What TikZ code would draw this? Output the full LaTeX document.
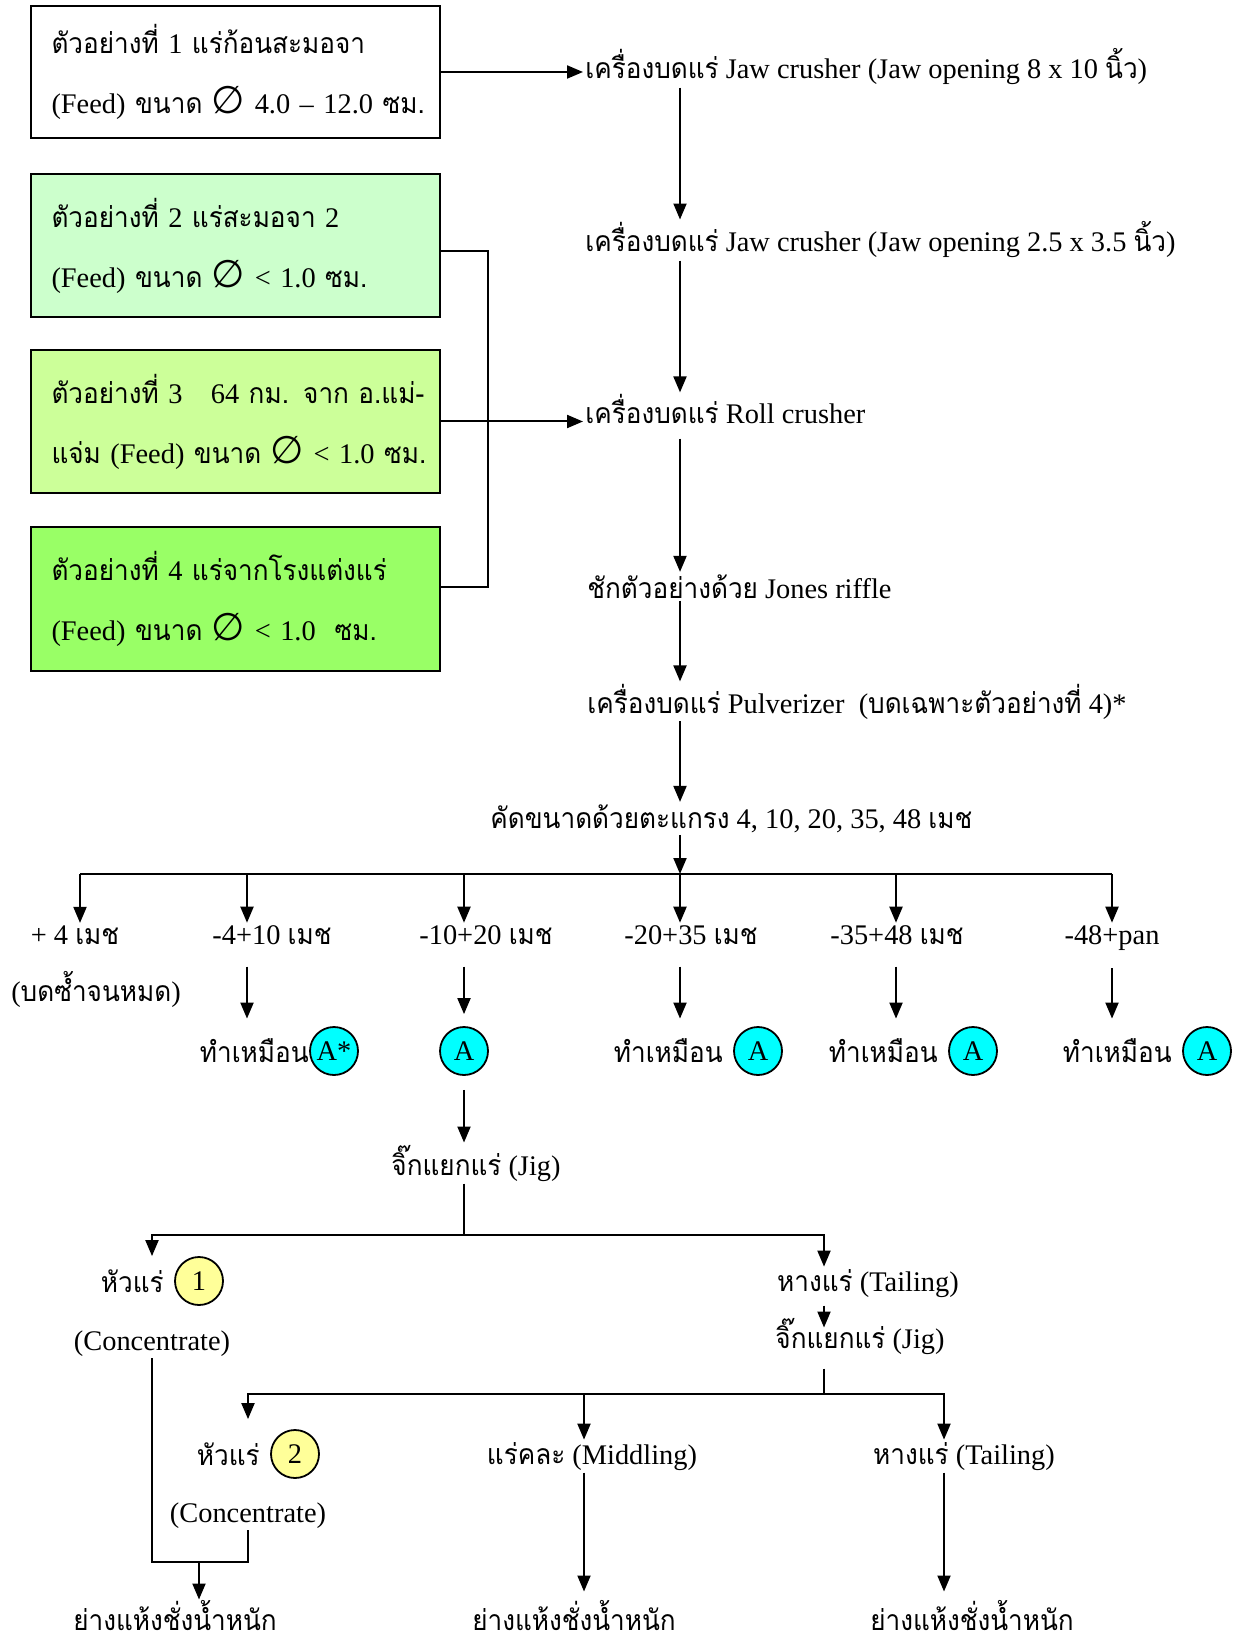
\documentclass[tikz,border=0pt]{standalone}
\usepackage{fontspec}
\setmainfont{Liberation Serif}
\newfontfamily\thaifont[Script=Thai, FakeStretch=0.92]{Loma}
\newfontfamily\symbfont[Scale=1.35]{DejaVu Sans}
\newcommand{\tx}[1]{{\thaifont #1}}
\newcommand{\diam}{{\symbfont ∅}}
\usetikzlibrary{arrows.meta}
\usetikzlibrary{positioning}
\definecolor{feedtwo}{HTML}{CCFFCC}
\definecolor{feedthree}{HTML}{CCFF99}
\definecolor{feedfour}{HTML}{99FF66}
\definecolor{tagcyan}{HTML}{00FFFF}
\definecolor{tagyellow}{HTML}{FFFF99}
\tikzset{txt/.style={font=\fontsize{14.2}{17}\selectfont, inner sep=1pt},
         feed/.style={draw, line width=1.1pt, minimum width=204.5pt,
           text width=184pt, inner xsep=10pt, align=left,
           font=\fontsize{14.2}{30}\selectfont},
         tagA/.style={circle, draw, line width=0.9pt, fill=tagcyan,
           minimum size=24pt, inner sep=0pt, font=\fontsize{14.2}{17}\selectfont},
         tagB/.style={tagA, fill=tagyellow},
         arr/.style={-{Triangle[length=8pt,width=6.5pt]}, line width=1pt},
         wire/.style={line width=1pt}}

\begin{document}
\begin{tikzpicture}[x=0.5pt,y=-0.5pt]
\useasboundingbox (0,0) rectangle (1239,1641);

% samples
\node[feed, minimum height=66pt] (f1) at (235.5,72)
  {\tx{ตัวอย่างที่} 1 \tx{แร่ก้อนสะมอจา}\\\mbox{(Feed) \tx{ขนาด} \diam{} 4.0 – 12.0 \tx{ซม.}}};
\node[feed, fill=feedtwo, minimum height=71.5pt] (f2) at (235.5,245.5)
  {\tx{ตัวอย่างที่} 2 \tx{แร่สะมอจา} 2\\(Feed) \tx{ขนาด} \diam{} < 1.0 \tx{ซม.}};
\node[feed, fill=feedthree, minimum height=71.5pt] (f3) at (235.5,421.5)
  {\mbox{\tx{ตัวอย่างที่} 3\quad 64 \tx{กม. จาก อ.แม่-}}\\\mbox{\tx{แจ่ม} (Feed) \tx{ขนาด} \diam{} < 1.0 \tx{ซม.}}};
\node[feed, fill=feedfour, minimum height=72pt] (f4) at (235.5,599)
  {\tx{ตัวอย่างที่} 4 \tx{แร่จากโรงแต่งแร่}\\(Feed) \tx{ขนาด} \diam{} < 1.0~ \tx{ซม.}};

% main line
\coordinate (spine) at (680,0);
\node[txt, anchor=base west] (jaw1) at (583,79) {\tx{เครื่องบดแร่} Jaw crusher (Jaw opening 8 x 10 \tx{นิ้ว})};
\node[txt, anchor=base west] (jaw2) at (583,252) {\tx{เครื่องบดแร่} Jaw crusher (Jaw opening 2.5 x 3.5 \tx{นิ้ว})};
\node[txt, anchor=base west] (roll) at (583,424) {\tx{เครื่องบดแร่} Roll crusher};
\node[txt, anchor=base west] (jones) at (585,598) {\tx{ชักตัวอย่างด้วย} Jones riffle};
\node[txt, anchor=base west] (pulv) at (585,713) {\tx{เครื่องบดแร่} Pulverizer\ \ (\tx{บดเฉพาะตัวอย่างที่} 4)*};
\node[txt, anchor=base west] (sieve) at (488,828) {\tx{คัดขนาดด้วยตะแกรง} 4, 10, 20, 35, 48 \tx{เมช}};

\draw[arr] (f1.east) -- (f1.east -| jaw1.west);
\coordinate (brk) at (488,0);
\draw[wire] ([yshift=-3pt]f2.east) -- ([yshift=-3pt]f2.east -| brk)
  -- ([yshift=6pt]f4.east -| brk) -- ([yshift=6pt]f4.east);
\draw[arr] (f3.east) -- (f3.east -| roll.west);

\draw[arr] (spine |- jaw1.south) -- (spine |- jaw2.north);
\draw[arr] (spine |- jaw2.south) -- (spine |- roll.north);
\draw[arr, shorten <=6pt] (spine |- roll.south) -- (spine |- jones.north);
\draw[arr] (spine |- jones.south) -- (spine |- pulv.north);
\draw[arr] (spine |- pulv.south) -- (spine |- sieve.north);

% size fractions
\coordinate (d1) at (80,874);
\coordinate (d2) at (247,874);
\coordinate (d3) at (464,874);
\coordinate (d4) at (680,874);
\coordinate (d5) at (896,874);
\coordinate (d6) at (1112,874);
\draw[arr] (spine |- sieve.south) -- (d4);
\draw[wire] (d1) -- (d6);

\node[txt, anchor=base] (m1) at (75,944) {+ 4 \tx{เมช}};
\node[txt, anchor=base] (m2) at (272,944) {-4+10 \tx{เมช}};
\node[txt, anchor=base] (m3) at (486,944) {-10+20 \tx{เมช}};
\node[txt, anchor=base] (m4) at (691,944) {-20+35 \tx{เมช}};
\node[txt, anchor=base] (m5) at (897,944) {-35+48 \tx{เมช}};
\node[txt, anchor=base] (m6) at (1112,944) {-48+pan};
\node[txt, anchor=base] (redo) at (96,1001) {(\tx{บดซ้ำจนหมด})};

\draw[arr] (d1) -- (d1 |- m1.north);
\draw[arr] (d2) -- (d2 |- m2.north);
\draw[arr] (d3) -- (d3 |- m3.north);
\draw[arr] (d4) -- (d4 |- m4.north);
\draw[arr] (d5) -- (d5 |- m5.north);
\draw[arr] (d6) -- (d6 |- m6.north);

\node[tagA] (a2) at (334,1051) {A*};
\node[tagA] (a3) at (464,1051) {A};
\node[tagA] (a4) at (758,1051) {A};
\node[tagA] (a5) at (973,1051) {A};
\node[tagA] (a6) at (1207,1051) {A};
\node[txt, left=-1pt of a2] (same2) {\tx{ทำเหมือน}};
\node[txt, left=4pt of a4] (same4) {\tx{ทำเหมือน}};
\node[txt, left=4pt of a5] (same5) {\tx{ทำเหมือน}};
\node[txt, left=4pt of a6] (same6) {\tx{ทำเหมือน}};

\draw[arr, shorten <=10pt, shorten >=9pt] (d2 |- m2.south) -- (d2 |- same2.north);
\draw[arr, shorten <=10pt, shorten >=6pt] (d3 |- m3.south) -- (a3.north);
\draw[arr, shorten <=10pt, shorten >=9pt] (d4 |- m4.south) -- (d4 |- same4.north);
\draw[arr, shorten <=10pt, shorten >=9pt] (d5 |- m5.south) -- (d5 |- same5.north);
\draw[arr, shorten <=8pt, shorten >=9pt] (d6 |- m6.south) -- (d6 |- same6.north);

% jig
\node[txt, anchor=base] (jig1) at (476,1175) {\tx{จิ๊กแยกแร่} (Jig)};
\draw[arr, shorten <=7pt] (a3.south) -- (a3.south |- jig1.north);
\coordinate (b2) at (464,1235);
\draw[wire] (b2 |- jig1.south) -- (b2);

\node[tagB] (h1c) at (199,1281) {1};
\node[txt, left=4pt of h1c] (h1) {\tx{หัวแร่}};
\node[txt, anchor=base] (conc1) at (152,1350) {(Concentrate)};
\coordinate (k) at (824,0);
\node[txt, anchor=base] (tail1) at (868,1291) {\tx{หางแร่} (Tailing)};
\node[txt, anchor=base] (jig2) at (860,1348) {\tx{จิ๊กแยกแร่} (Jig)};

\draw[arr] (b2) -| (conc1 |- h1c.north);
\draw[arr] (b2) -| (k |- tail1.north);
\draw[arr, shorten <=3pt, shorten >=-6pt] (k |- tail1.south) -- (k |- jig2.north);

\coordinate (b3) at (824,1394);
\draw[wire, shorten <=6pt] (b3 |- jig2.south) -- (b3);

\node[tagB] (h2c) at (295,1454) {2};
\node[txt, left=4pt of h2c] (h2) {\tx{หัวแร่}};
\node[txt, anchor=base] (conc2) at (248,1522) {(Concentrate)};
\coordinate (mx) at (584,0);
\node[txt, anchor=base] (mid) at (592,1464) {\tx{แร่คละ} (Middling)};
\coordinate (tx2) at (944,0);
\node[txt, anchor=base] (tail2) at (964,1464) {\tx{หางแร่} (Tailing)};

\draw[arr, shorten >=5pt] (b3) -| (conc2 |- h2c.north);
\draw[arr] (b3) -| (mx |- mid.north);
\draw[arr] (b3) -| (tx2 |- tail2.north);

% drying and weighing
\node[txt, anchor=base, inner sep=0pt] (w1) at (175,1630) {\tx{ย่างแห้งชั่งน้ำหนัก}};
\node[txt, anchor=base, inner sep=0pt] (w2) at (574,1630) {\tx{ย่างแห้งชั่งน้ำหนัก}};
\node[txt, anchor=base, inner sep=0pt] (w3) at (972,1630) {\tx{ย่างแห้งชั่งน้ำหนัก}};

\coordinate (mrg) at (199,1562);
\draw[wire] (conc1.south) -- (conc1.south |- mrg) -- (conc2.south |- mrg) -- (conc2.south);
\draw[arr] (mrg) -- (mrg |- w1.north);
\draw[arr, shorten >=4pt] (mx |- mid.south) -- (mx |- w2.north);
\draw[arr, shorten >=4pt] (tx2 |- tail2.south) -- (tx2 |- w3.north);
\end{tikzpicture}
\end{document}
